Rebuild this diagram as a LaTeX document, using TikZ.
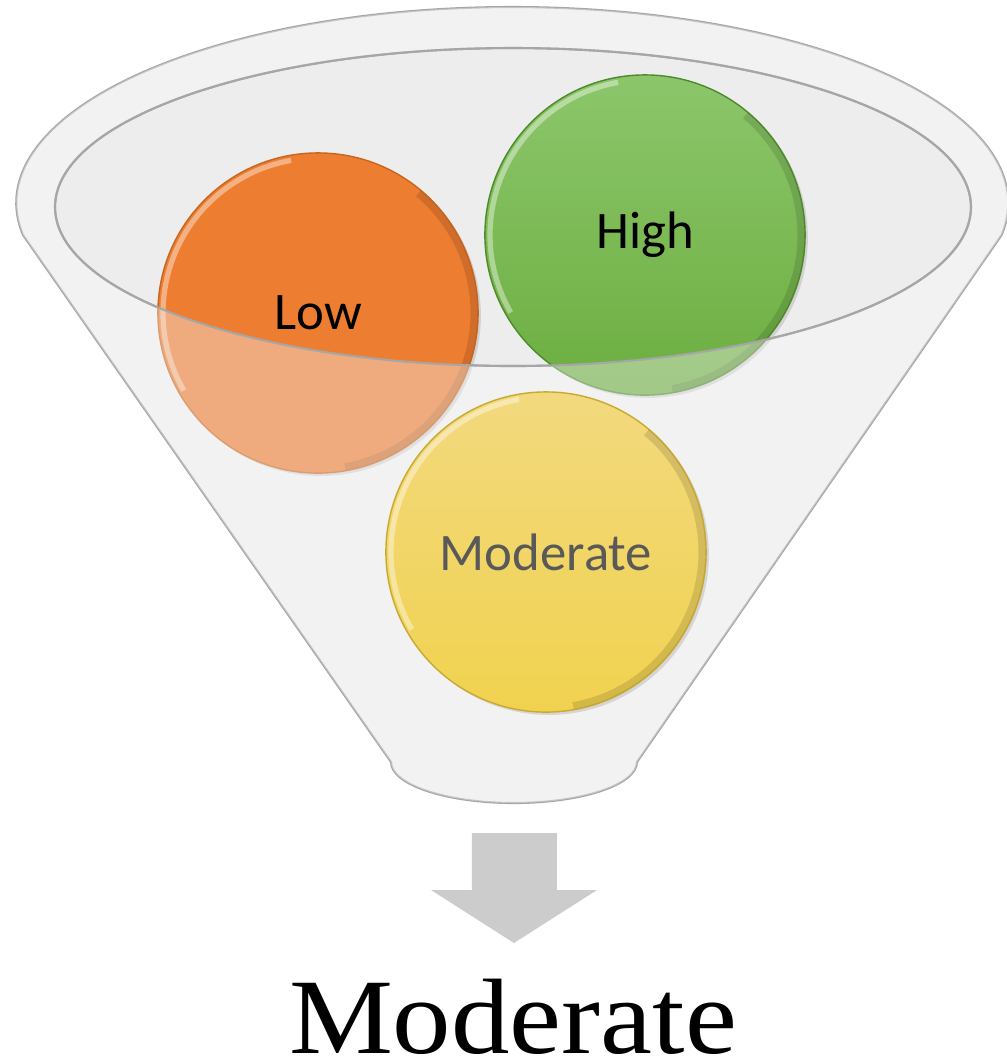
\documentclass[tikz,border=0pt]{standalone}
\usepackage{fontspec}
\newfontfamily\carlito{Carlito}
\newfontfamily\resultfont{Liberation Serif}
\usepackage{graphicx}
\usepackage{tikz}
\usetikzlibrary{shadows}
\definecolor{FunnelFill}{HTML}{F2F2F2}
\definecolor{RimFill}{HTML}{EDEDED}
\definecolor{FunnelLine}{HTML}{A6A6A6}
\definecolor{Orange}{HTML}{ED7D31}
\definecolor{OrangeDark}{HTML}{C8661E}
\definecolor{GreenTop}{HTML}{8CC66B}
\definecolor{Green}{HTML}{6CAE40}
\definecolor{GreenDark}{HTML}{4E8A2A}
\definecolor{YellowTop}{HTML}{F2D97E}
\definecolor{Yellow}{HTML}{F1D24F}
\definecolor{YellowDark}{HTML}{C9A92F}
\definecolor{ArrowGray}{HTML}{CCCCCC}
\definecolor{TextGray}{HTML}{595959}

% outline of the funnel body (rim ellipse + sides + round bottom)
\newcommand{\funnelpath}{(23,-235) arc[start angle=189.4,end angle=-9.4,x radius=496,y radius=196]
  -- (637,-762) arc[start angle=0,end angle=-180,x radius=123,y radius=41] -- cycle}

\begin{document}
\begin{tikzpicture}[x=0.01cm,y=0.01cm,
    funnelline/.style={draw=FunnelLine,line width=0.6pt},
    ball/.style={circle,minimum size=3.2cm,inner sep=0pt,line width=0.4pt,
      font=\carlito\fontsize{15}{18}\selectfont,
      drop shadow={opacity=0.25,shadow xshift=0.8pt,shadow yshift=-0.8pt}},
    bevel/.style={white,opacity=0.4,line width=1.5pt},
    rimshade/.style={black,opacity=0.12,line width=2pt}
]
\useasboundingbox (0,0) rectangle (1007,-1062);

% back of the funnel
\path[fill=FunnelFill,funnelline] \funnelpath;
\path[fill=RimFill,funnelline] (513,-207) ellipse[x radius=458,y radius=159];

% balls inside the funnel
\node[ball,top color=Orange,bottom color=Orange,draw=OrangeDark] (low) at (318,-313) {Low};
\node[ball,top color=GreenTop,bottom color=Green,draw=GreenDark] (high) at (645,-235) {High};
\foreach \n in {low,high} {
  \draw[bevel] (\n.center) ++(100:155) arc[start angle=100,end angle=210,radius=155];
  \draw[rimshade] (\n.center) ++(-80:156) arc[start angle=-80,end angle=50,radius=156];
}

% see-through front of the funnel
\fill[FunnelFill,opacity=0.4,even odd rule] \funnelpath (513,-207) ellipse[x radius=458,y radius=159];
\path[funnelline] (513,-207) ellipse[x radius=458,y radius=159];

% ball in front
\node[ball,top color=YellowTop,bottom color=Yellow,draw=YellowDark,text=TextGray] (mod) at (546,-552) {Moderate};
\draw[bevel] (mod.center) ++(100:155) arc[start angle=100,end angle=210,radius=155];
\draw[rimshade] (mod.center) ++(-80:156) arc[start angle=-80,end angle=50,radius=156];

% result
\fill[ArrowGray] (472,-833) -- (557,-833) -- (557,-890) -- (597,-890) -- (514,-943) -- (431,-890) -- (472,-890) -- cycle;
\node[anchor=base,inner sep=0pt,font=\resultfont\fontsize{30.5}{36}\selectfont] (result) at (513,-1053) {\scalebox{1.09}[1]{Moderate}};
\end{tikzpicture}
\end{document}
